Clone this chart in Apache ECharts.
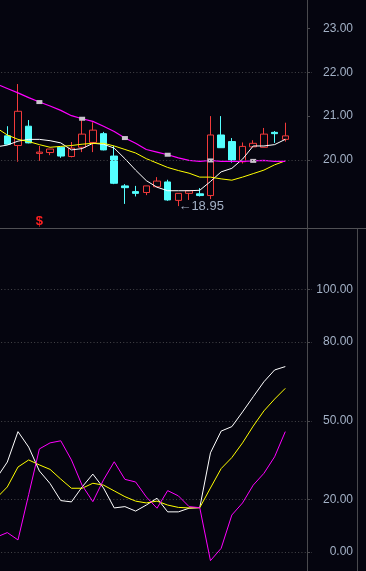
<!DOCTYPE html>
<html><head><meta charset="utf-8">
<script src="https://cdn.jsdelivr.net/npm/echarts@6/dist/echarts.min.js"></script>
<style>html,body{margin:0;padding:0;background:#05050f;overflow:hidden;width:366px;height:571px;position:relative;}
#c{position:absolute;left:-9px;top:0;width:375px;height:571px;}</style>
</head><body><div id="c"></div>
<script>
// ---- data ----
const categories = ['1','2','3','4','5','6','7','8','9','10','11','12','13','14','15','16','17','18','19','20','21','22','23','24','25','26','27','28','29','30'];
// [open, close, low, high]
const candles = [
  [20.08,20.42,20.04,20.46],
  [20.55,20.36,20.35,20.77],
  [20.33,21.11,19.96,21.73],
  [20.77,20.39,20.38,20.91],
  [20.15,20.18,19.98,20.32],
  [20.17,20.25,20.11,20.25],
  [20.29,20.09,20.05,20.29],
  [20.08,20.27,20.06,20.41],
  [20.29,20.59,20.18,20.97],
  [20.40,20.68,20.18,20.86],
  [20.60,20.23,20.22,20.64],
  [20.09,19.47,19.45,20.32],
  [19.41,19.37,19.00,19.45],
  [19.28,19.24,19.17,19.41],
  [19.26,19.41,19.20,19.41],
  [19.39,19.52,19.39,19.61],
  [19.50,19.09,19.07,19.55],
  [19.08,19.24,18.95,19.24],
  [19.24,19.30,19.09,19.30],
  [19.23,19.19,19.17,19.36],
  [19.19,20.57,19.11,21.00],
  [20.57,20.28,20.28,21.00],
  [20.42,20.00,19.94,20.50],
  [19.96,20.31,19.92,20.40],
  [20.30,20.38,20.30,20.45],
  [20.29,20.59,20.29,20.73],
  [20.63,20.60,20.39,20.66],
  [20.47,20.55,20.42,20.85]
];
const ma5  = [20.30,20.34,20.43,20.47,20.47,20.44,20.39,20.23,20.26,20.38,20.36,20.27,20.03,19.77,19.53,19.38,19.30,19.30,19.30,19.31,19.51,19.73,19.81,20.02,20.32,20.32,20.35,20.47];
const ma10 = [20.73,20.57,20.47,20.42,20.35,20.29,20.31,20.33,20.36,20.38,20.38,20.32,20.24,20.16,20.03,19.93,19.83,19.76,19.70,19.61,19.61,19.57,19.54,19.61,19.69,19.77,19.89,19.98];
const ma20 = [21.73,21.63,21.53,21.42,21.32,21.23,21.13,21.01,20.94,20.88,20.77,20.65,20.50,20.38,20.24,20.18,20.12,20.05,19.99,19.97,19.99,19.97,19.97,19.97,19.98,19.99,19.97,19.97];
const ma20Markers = [4,8,12,16,20,24];
const kLine = [28.2,34.3,45.9,40.0,30.9,26.1,19.6,19.1,24.8,29.7,24.4,16.8,17.3,15.6,17.9,20.5,15.3,15.3,16.7,16.9,37.8,46.1,47.8,53.4,59.2,64.9,69.4,70.7];
const dLine = [20.6,24.8,32.4,35.1,33.2,31.5,27.8,24.3,24.3,26.2,25.5,23.3,21.1,19.4,18.7,19.4,17.9,17.0,16.8,16.9,24.4,31.8,36.0,41.6,48.0,53.8,58.3,62.4];
const jLine = [5.7,7.4,4.6,21.9,39.3,41.6,42.4,35.1,25.4,19.2,27.5,34.4,27.7,26.7,21.0,16.7,23.4,21.4,17.3,16.9,-3.3,1.4,14.1,18.7,25.5,30.0,36.3,45.9];
const priceTicks = [20,21,22,23];
const priceGridValues = [20,22];
const kdjTicks = [0,20,50,80,100];
const lowMark = {index:17, value:18.95, text:'\u2190' + '18.95'};
const signalMark = {index:4, value:18.61, text:'$'};

// ---- styles ----
const BG = '#05050f';
const AXIS_C = '#4a4a4e';
const LABEL_C = '#a3b1c6';
const GRID_C = '#46464a';
const RED = '#f23a3a';
const CYAN = '#54ffff';
const FONT = 'Liberation Sans';
const SHIFT = 9; // chart canvas starts 9px left of the page
const gridLeft = -8.74 + SHIFT, gridWidth = 320.77;

const chart = echarts.init(document.getElementById('c'), null, {renderer:'canvas'});
const labelStyle = {color:LABEL_C, fontSize:12, fontFamily:FONT, align:'right', margin:46, formatter:v=>Number(v).toFixed(2)};

chart.setOption({
  backgroundColor: BG,
  animation: false,
  grid: [
    {left:gridLeft, width:gridWidth, top:0, height:228},
    {left:gridLeft, width:gridWidth, top:229, height:342}
  ],
  xAxis: [
    {type:'category', gridIndex:0, data:categories, boundaryGap:true, show:false},
    {type:'category', gridIndex:1, data:categories, boundaryGap:true, show:false}
  ],
  yAxis: [
    {type:'value', gridIndex:0, position:'right', offset:-5, min:18.451, max:23.645,
      axisLine:{show:true, lineStyle:{color:AXIS_C}},
      axisTick:{show:true, length:3, customValues:priceTicks, lineStyle:{color:AXIS_C}},
      axisLabel:Object.assign({customValues:priceTicks}, labelStyle),
      splitLine:{show:false}},
    {type:'value', gridIndex:1, position:'right', offset:-5, min:-7.245, max:123.15,
      axisLine:{show:true, lineStyle:{color:AXIS_C}},
      axisTick:{show:true, length:3, customValues:kdjTicks, lineStyle:{color:AXIS_C}},
      axisLabel:Object.assign({customValues:kdjTicks}, labelStyle),
      splitLine:{show:true, lineStyle:{color:GRID_C, type:[1,2.3], width:1}}}
  ],
  graphic: [
    {type:'line', shape:{x1:0, y1:228.5, x2:375, y2:228.5}, style:{stroke:'#505054', lineWidth:1}, silent:true},
    {type:'line', shape:{x1:357.5+SHIFT, y1:229, x2:357.5+SHIFT, y2:571}, style:{stroke:AXIS_C, lineWidth:1}, silent:true}
  ],
  series: [
    {type:'candlestick', xAxisIndex:0, yAxisIndex:0, data:candles, barWidth:7, clip:false, silent:true,
      itemStyle:{color:'transparent', color0:CYAN, borderColor:RED, borderColor0:CYAN, borderWidth:1},
      markLine:{silent:true, symbol:'none', label:{show:false}, lineStyle:{color:GRID_C, type:[1,2.3], width:1},
        data: priceGridValues.map(v=>({yAxis:v}))},
      markPoint:{silent:true, data:[
        {coord:[categories[lowMark.index], lowMark.value], symbol:'circle', symbolSize:0,
          label:{show:true, position:'right', distance:0, formatter:lowMark.text, color:LABEL_C, fontSize:13, fontFamily:FONT}},
        {coord:[categories[signalMark.index], signalMark.value], symbol:'circle', symbolSize:0,
          label:{show:true, position:'inside', formatter:signalMark.text, color:'#ff2020', fontSize:13, fontWeight:'bold', fontFamily:FONT}}
      ]}
    },
    {type:'line', xAxisIndex:0, yAxisIndex:0, data:ma5, showSymbol:false, silent:true,
      lineStyle:{color:'#ffffff', width:1}},
    {type:'line', xAxisIndex:0, yAxisIndex:0, data:ma10, showSymbol:false, silent:true,
      lineStyle:{color:'#ffff00', width:1}},
    {type:'line', xAxisIndex:0, yAxisIndex:0, silent:true, symbol:'none', showSymbol:true, showAllSymbol:true,
      data: ma20.map((v,i)=> ma20Markers.indexOf(i)>=0 ? {value:v, symbol:'rect', symbolSize:[6,4], itemStyle:{color:'#c9c3cc', borderWidth:0}} : {value:v}),
      lineStyle:{color:'#ff00ff', width:1.2}},
    {type:'line', xAxisIndex:1, yAxisIndex:1, data:kLine, showSymbol:false, silent:true,
      lineStyle:{color:'#ffffff', width:1}},
    {type:'line', xAxisIndex:1, yAxisIndex:1, data:dLine, showSymbol:false, silent:true,
      lineStyle:{color:'#ffff00', width:1}},
    {type:'line', xAxisIndex:1, yAxisIndex:1, data:jLine, showSymbol:false, silent:true,
      lineStyle:{color:'#ff00ff', width:1}}
  ]
});
</script></body></html>
